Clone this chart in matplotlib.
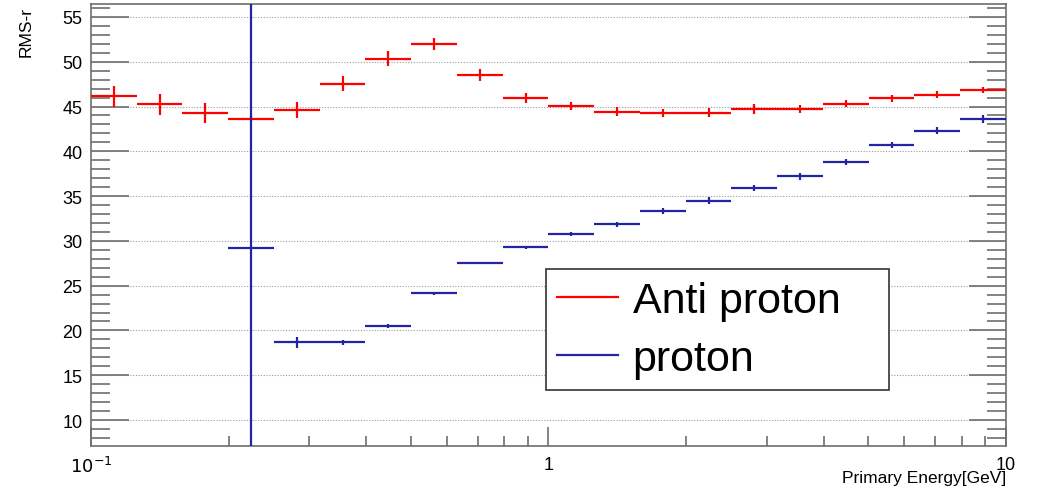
import numpy as np
import matplotlib
matplotlib.use("Agg")
import matplotlib.pyplot as plt
from matplotlib.lines import Line2D
from matplotlib.ticker import FixedLocator, NullFormatter, MultipleLocator

plt.rcParams["font.family"] = ["Liberation Sans", "DejaVu Sans"]

# ------------------------
# Data (20 log bins from 0.1 to 10 GeV)
# ------------------------
bin_edges = np.logspace(-1, 1, 21)

anti_rms = [46.14, 45.25, 44.24, 43.61, 44.62, 47.52, 50.35, 51.99, 48.52, 45.92,
            45.06, 44.43, 44.24, 44.32, 44.73, 44.73, 45.32, 45.92, 46.33, 46.85]
anti_err = [1.2, 1.2, 1.1, 0.3, 0.87, 0.84, 0.8, 0.7, 0.65, 0.54,
            0.5, 0.5, 0.45, 0.52, 0.52, 0.45, 0.4, 0.37, 0.37, 0.37]

proton_rms = [np.nan, np.nan, np.nan, 29.24, 18.67, 18.67, 20.5, 24.14, 27.53, 29.28,
              30.77, 31.85, 33.3, 34.49, 35.87, 37.21, 38.81, 40.71, 42.31, 43.61]
proton_err = [0, 0, 0, 60.0, 0.65, 0.25, 0.2, 0.15, 0.15, 0.2,
              0.25, 0.25, 0.35, 0.4, 0.35, 0.4, 0.35, 0.3, 0.35, 0.45]

RED = "#ff0000"
BLUE = "#2323a6"

centers = np.sqrt(bin_edges[:-1] * bin_edges[1:])
xerr = [centers - bin_edges[:-1], bin_edges[1:] - centers]

# ------------------------
# Plot
# ------------------------
fig = plt.figure(figsize=(10.43, 4.89), dpi=100)
ax = fig.add_axes([0.0872, 0.0859, 0.8773, 0.9039])

ax.errorbar(centers, anti_rms, xerr=xerr, yerr=anti_err, fmt="none",
            ecolor=RED, elinewidth=1.6, capsize=0, zorder=3)
ax.errorbar(centers, proton_rms, xerr=xerr, yerr=proton_err, fmt="none",
            ecolor=BLUE, elinewidth=1.6, capsize=0, zorder=3)

ax.set_xscale("log")
ax.set_xlim(0.1, 10)
ax.set_ylim(7.1, 56.45)

# axis styling (ROOT-like)
for sp in ax.spines.values():
    sp.set_color("#6e6e6e")
    sp.set_linewidth(1.2)

ax.yaxis.set_major_locator(MultipleLocator(5))
ax.yaxis.set_minor_locator(MultipleLocator(1))
ax.tick_params(axis="y", which="major", direction="in", length=27, width=1.2,
               color="#6e6e6e", left=True, right=True, labelsize=13, pad=6)
ax.tick_params(axis="y", which="minor", direction="in", length=14, width=1.2,
               color="#6e6e6e", left=True, right=True)

ax.xaxis.set_major_locator(FixedLocator([0.1, 1, 10]))
ax.set_xticklabels(["$10^{-1}$", "1", "10"])
minors = [m * d for d in (0.1, 1) for m in range(2, 10)]
ax.xaxis.set_minor_locator(FixedLocator(minors))
ax.xaxis.set_minor_formatter(NullFormatter())
ax.tick_params(axis="x", which="major", direction="in", length=14, width=1.2,
               color="#6e6e6e", labelsize=13, pad=7)
ax.tick_params(axis="x", which="minor", direction="in", length=7, width=1.2,
               color="#6e6e6e")

ax.grid(axis="y", which="major", color="#9a9a9a", linestyle=(0, (1, 1.5)), linewidth=0.8)
ax.set_axisbelow(True)

ax.set_xlabel("Primary Energy[GeV]", loc="right", fontsize=12.5)
ax.xaxis.set_label_coords(1.0, -0.054)
ax.set_ylabel("RMS-r", loc="top", fontsize=12.5)
ax.yaxis.set_label_coords(-0.063, 0.995)

# legend
handles = [Line2D([], [], color=RED, lw=1.6), Line2D([], [], color=BLUE, lw=1.6)]
leg = ax.legend(handles, ["Anti proton", "proton"], loc="upper left",
                bbox_to_anchor=(0.497, 0.138, 0.375, 0.2624), mode="expand",
                fontsize=31, frameon=True, fancybox=False, framealpha=1,
                edgecolor="#333333", handlelength=1.4, handletextpad=0.35,
                borderpad=0.27, labelspacing=0.42, borderaxespad=0)
leg.get_frame().set_linewidth(1.2)

plt.savefig("out.png", dpi=100)
